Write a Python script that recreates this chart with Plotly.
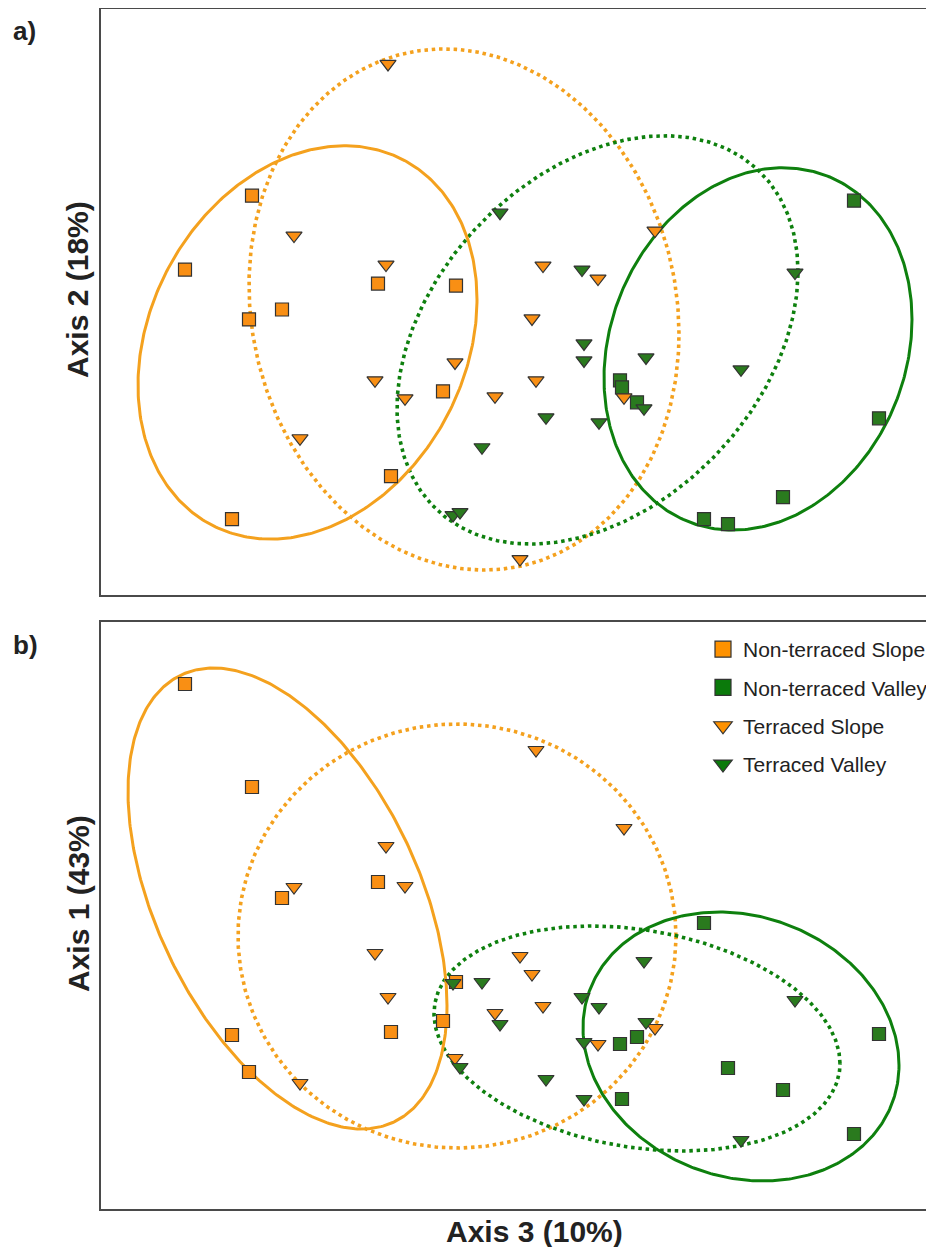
import numpy as np
import plotly.graph_objects as go

# ---------------- data (ordination scores, x100) ----------------
# Non-terraced Slope
nts_ax3 = [-332, -265, -139, -61, -268, -235, -74, -126, -285]
nts_ax2 = [32, 106, 18, 16, -18, -8, -90, -175, -218]
nts_ax1 = [231, 128, 33, -67, -157, 17, -106, -117, -120]
# Non-terraced Valley
ntv_ax3 = [187, 362, 211, 266, 337, 103, 120, 105]
ntv_ax2 = [-218, -117, -223, -196, 101, -79, -101, -86]
ntv_ax1 = [-8, -119, -153, -175, -219, -129, -122, -184]
# Terraced Slope
ts_ax3 = [-129, -223, -131, 138, 26, 81, -62, -142, -112, -217, 15, 19, -22, 107, 3]
ts_ax2 = [238, 66, 37, 71, 36, 23, -61, -79, -97, -137, -17, -79, -95, -96, -258]
ts_ax1 = [-82, 28, 69, -113, -91, -129, -143, -38, 29, -168, -59, 165, -98, 87, -41]
# Terraced Valley
tv_ax3 = [-17, -35, 278, 224, 29, 82, 65, 67, 67, 129, 127, -64, -57]
tv_ax2 = [89, -146, 29, -68, -116, -121, 32, -42, -59, -56, -107, -214, -211]
tv_ax1 = [-109, -67, -85, -225, -164, -92, -82, -127, -184, -107, -46, -68, -152]

group_names = ["Non-terraced Slope", "Non-terraced Valley", "Terraced Slope", "Terraced Valley"]

# ellipse parameters per group: centre x, centre y, half-width, half-height, x-offset of top point
ell_a_cx = [-209.5, 241, -53, 80.5]
ell_a_cy = [-41, -47.5, -8, -38.5]
ell_a_hw = [169.5, 154, 215, 200.5]
ell_a_hh = [197, 181.5, 261, 204.5]
ell_a_dx = [37, 25, -20, 67]

ell_b_cx = [-229.5, 224, -60, 120]
ell_b_cy = [16.5, -131.5, -21, -123.5]
ell_b_hw = [159.5, 158, 219, 203]
ell_b_hh = [230.5, 134.5, 212, 112.5]
ell_b_dx = [-74, -22, 0, -45]

# ---------------- styling ----------------
ORANGE = "#F98F14"
GREEN = "#2A7A1E"
LINE_OR = "#F4A11E"
LINE_GR = "#0E800E"
fills = [ORANGE, GREEN, ORANGE, GREEN]
lcols = [LINE_OR, LINE_GR, LINE_OR, LINE_GR]
symbols = ["square", "square", "triangle-down", "triangle-down"]
sizes = [13, 13, 14, 14]
dashes = ["solid", "solid", "3.5px,3.8px", "3.5px,3.8px"]
lwidths = [3, 3, 3.6, 3.6]

# page has an 8px body margin, so the figure is laid out 8px in from the window
W, H = 926, 1239
x0 = 93 / W
ya = [1 - 587 / H, 1 - 1 / H]
yb = [1 - 1201 / H, 1 - 614 / H]
FONT = "Liberation Sans, Arial, sans-serif"

fig = go.Figure()


def ellipse(cx, cy, hw, hh, dx):
    t = np.linspace(0, 2 * np.pi, 400)
    phi = np.arcsin(dx / hw)
    return cx + hw * np.cos(t), cy + hh * np.sin(t + phi)


xs = [nts_ax3, ntv_ax3, ts_ax3, tv_ax3]
ys_a = [nts_ax2, ntv_ax2, ts_ax2, tv_ax2]
ys_b = [nts_ax1, ntv_ax1, ts_ax1, tv_ax1]

# ellipses first (under markers)
for panel, (cxs, cys, hws, hhs, dxs, xa, yax) in enumerate([
        (ell_a_cx, ell_a_cy, ell_a_hw, ell_a_hh, ell_a_dx, "x", "y"),
        (ell_b_cx, ell_b_cy, ell_b_hw, ell_b_hh, ell_b_dx, "x2", "y2")]):
    for g in [2, 3, 0, 1]:
        ex, ey = ellipse(cxs[g], cys[g], hws[g], hhs[g], dxs[g])
        fig.add_trace(go.Scatter(x=ex, y=ey, mode="lines", xaxis=xa, yaxis=yax,
                                 line=dict(color=lcols[g], width=lwidths[g], dash=dashes[g]),
                                 showlegend=False, hoverinfo="skip"))

# points
for g in range(4):
    for xa, yax, yv in [("x", "y", ys_a[g]), ("x2", "y2", ys_b[g])]:
        fig.add_trace(go.Scatter(x=xs[g], y=yv, mode="markers", xaxis=xa, yaxis=yax,
                                 name=group_names[g], legendgroup=group_names[g], showlegend=False,
                                 marker=dict(symbol=symbols[g], size=sizes[g], color=fills[g],
                                             line=dict(color="#333333", width=1.2))))

# legend entries
legend_fill = ["#FF9200", "#0B7A0B", "#FF9200", "#0B7A0B"]
for g in range(4):
    fig.add_trace(go.Scatter(x=[None], y=[None], mode="markers", xaxis="x2", yaxis="y2",
                             name=group_names[g], legendgroup=group_names[g], showlegend=True,
                             marker=dict(symbol=symbols[g], size=16, color=legend_fill[g],
                                         line=dict(color="#333333", width=1.2))))

axis_common = dict(showgrid=False, zeroline=False, showticklabels=False, ticks="",
                   showline=True, linecolor="#4a4a4a", linewidth=2)
fig.update_layout(
    width=W, height=H,
    margin=dict(l=0, r=0, t=0, b=0),
    paper_bgcolor="white", plot_bgcolor="white",
    font=dict(family=FONT, color="#222222"),
    xaxis=dict(domain=[x0, 1], range=[-416, 417], anchor="y", mirror=True, **axis_common),
    yaxis=dict(domain=ya, range=[-294, 293], anchor="x", **axis_common),
    xaxis2=dict(domain=[x0, 1], range=[-416, 417], anchor="y2", mirror=True, **axis_common),
    yaxis2=dict(domain=yb, range=[-294, 293], anchor="x2", **axis_common),
    legend=dict(x=695 / W, y=1 - 621 / H, xanchor="left", yanchor="top",
                font=dict(size=21, family=FONT, color="#222222"),
                bgcolor="rgba(0,0,0,0)", tracegroupgap=8, itemclick=False),
    showlegend=True,
)

ann = [
    dict(text="<b>a)</b>", x=3 / W, y=1 - 23 / H, xanchor="left", yanchor="middle", font_size=26),
    dict(text="<b>b)</b>", x=3 / W, y=1 - 637 / H, xanchor="left", yanchor="middle", font_size=26),
    dict(text="<b>Axis 2 (18%)</b>", x=70 / W, y=1 - 282 / H, textangle=-90,
         xanchor="center", yanchor="middle", font_size=30),
    dict(text="<b>Axis 1 (43%)</b>", x=70 / W, y=1 - 896 / H, textangle=-90,
         xanchor="center", yanchor="middle", font_size=30),
    dict(text="<b>Axis 3 (10%)</b>", x=526 / W, y=1 - 1223 / H,
         xanchor="center", yanchor="middle", font_size=30),
]
for a in ann:
    a.update(xref="paper", yref="paper", showarrow=False)
    a["font"] = dict(family=FONT, color="#222222", size=a.pop("font_size"))
fig.update_layout(annotations=ann)

fig.write_html("out.html")
